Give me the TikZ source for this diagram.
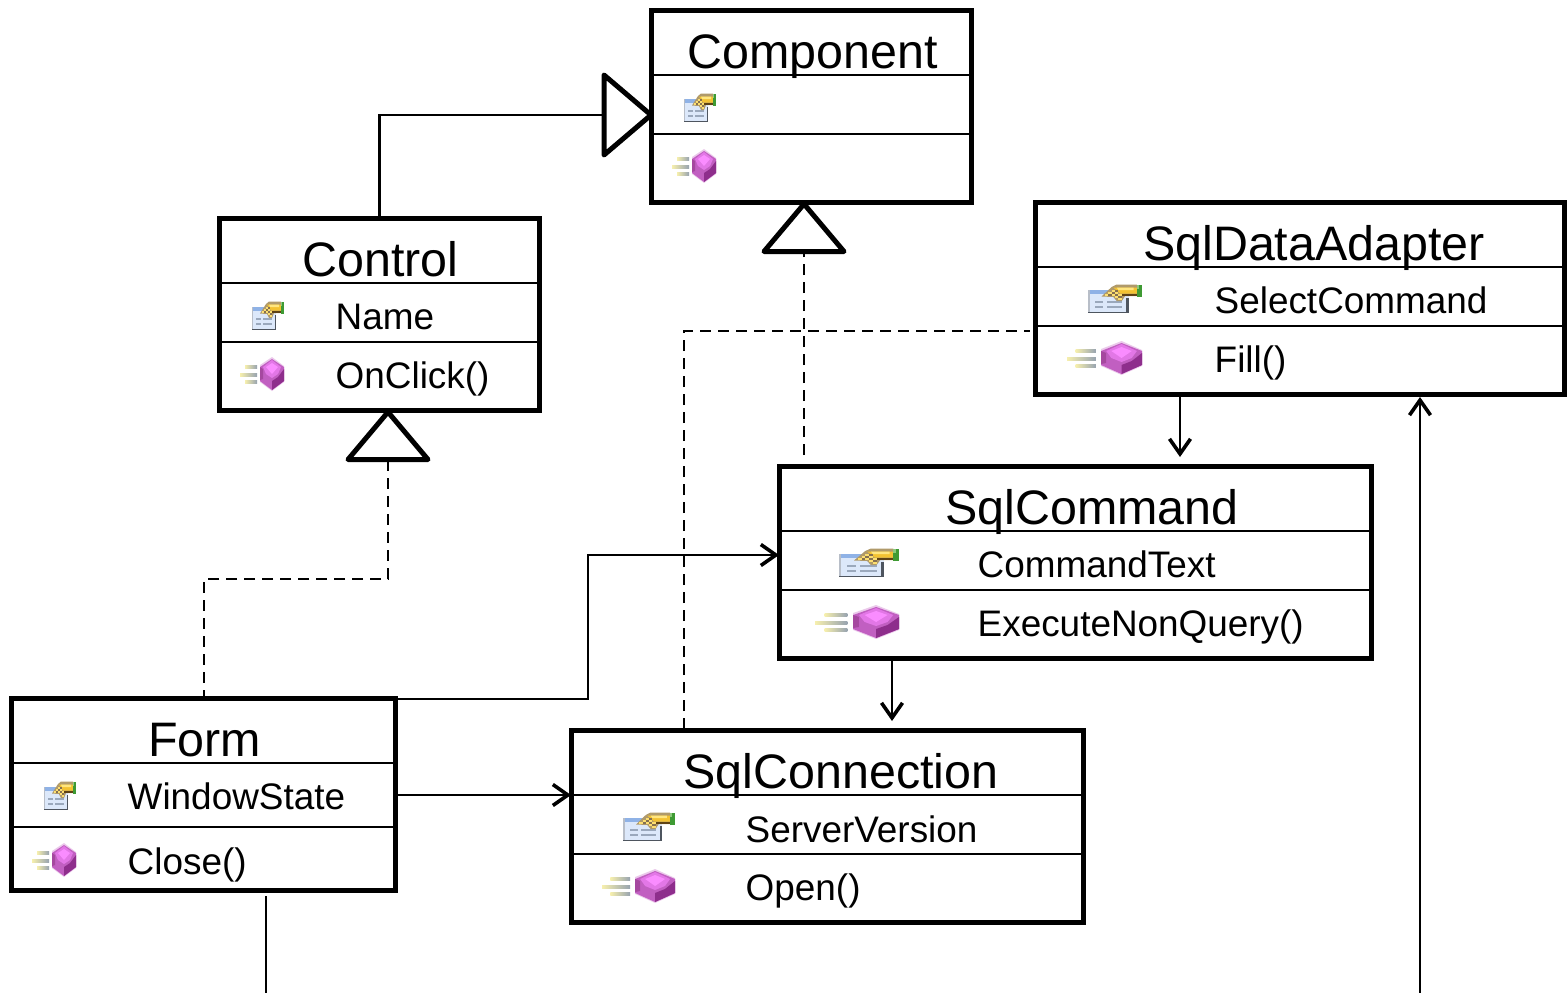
\documentclass[tikz,border=0pt]{standalone}
\usepackage{fontspec}
\setmainfont{Liberation Sans}
\usetikzlibrary{arrows.meta,calc}
\definecolor{wingray}{HTML}{4E555F}
\definecolor{winlight}{HTML}{B8BEC8}
\definecolor{winfill}{HTML}{DCE8FA}
\definecolor{winbar}{HTML}{8FB2E6}
\definecolor{winline}{HTML}{9AA8BC}
\definecolor{handy}{HTML}{F3C232}
\definecolor{handl}{HTML}{FFE680}
\definecolor{handb}{HTML}{B09A6A}
\definecolor{handd}{HTML}{5E4215}
\definecolor{handg}{HTML}{3E9A33}
\definecolor{handgl}{HTML}{8CC97C}
\definecolor{gemhalo}{HTML}{EBC9EB}
\definecolor{gemtop}{HTML}{E277E6}
\definecolor{gemhi}{HTML}{FA8CFF}
\definecolor{gemleft}{HTML}{C15FC1}
\definecolor{gemband}{HTML}{A5489F}
\definecolor{gemright}{HTML}{8E2E8C}
\definecolor{speedy}{HTML}{F6EFAE}
\definecolor{speedg}{HTML}{97A3B0}
\tikzset{
  classbox/.style={draw=black,fill=white,line width=5pt,rectangle,inner sep=0pt,outer sep=0pt,line join=miter},
  sepline/.style={draw=black,line width=2.6pt},
  conn/.style={draw=black,line width=2.6pt},
  dashconn/.style={draw=black,line width=2.6pt,dash pattern=on 11pt off 7pt},
  openarrow/.style={-{Straight Barb[length=15pt,width=21pt,line width=3.6pt]}},
  inherit/.style={draw=black,fill=white,line width=5pt,line join=round,line cap=round},
  titletext/.style={inner sep=0pt,anchor=base,font=\fontsize{48.4}{50}\selectfont},
  detailtext/.style={inner sep=0pt,anchor=base west,font=\fontsize{36.9}{40}\selectfont},
}
% #1 left, #2 top, #3 width of the icon
\newcommand{\fieldicon}[3]{%
  \begin{scope}[shift={(#1,#2)},xscale=#3/32]
    \fill[winfill] (0,6) rectangle (24,29);
    \fill[winbar] (0,6) rectangle (13,10);
    \fill[winlight] (0,6) rectangle (1.2,29);
    \fill[wingray] (0,27.6) rectangle (24,29);
    \fill[wingray] (22.6,14) rectangle (24,29);
    \fill[winline] (4,17) rectangle (9,19);
    \fill[winline] (11,17) rectangle (20,19);
    \fill[winline] (4,22) rectangle (9,24);
    \fill[winline] (11,22) rectangle (20,24);
    \fill[handb] (8,12.5) -- (14,3) -- (17,0.5) -- (29,0.5) -- (29,12) -- (22,12) -- (20,17) -- (17,17) -- (15,13) -- cycle;
    \fill[handy] (15,3.5) -- (29,3.5) -- (29,9.5) -- (19,9.5) -- cycle;
    \fill[handl] (17,3.5) -- (27,3.5) -- (27,6) -- (18,6) -- cycle;
    \fill[handd] (20,10) rectangle (29,12);
    \foreach \px/\py in {10/10,12/8,14/6,14/10,16/8,16/12,18/10,18/14}
      \fill[handl!80!handy] (\px,\py) rectangle ++(2,2);
    \foreach \px/\py in {12/10,14/8,16/6,16/10,18/12}
      \fill[handd!75!white] (\px,\py) rectangle ++(2,2);
    \fill[handg] (29,0.5) rectangle (32,13);
    \fill[handgl] (29,0.5) rectangle (30.3,5);
  \end{scope}}
\newcommand{\methodicon}[3]{%
  \begin{scope}[shift={(#1,#2)},xscale=#3/44]
    \shade[left color=speedy,right color=speedg] (5,8) rectangle (17,11);
    \shade[left color=speedy,right color=speedg] (0,16) rectangle (17,19);
    \shade[left color=speedy,right color=speedg] (5,23) rectangle (17,26);
    \fill[gemhalo] (20,8) -- (32,0) -- (44,9) -- (44,25) -- (32,34) -- (20,25) -- cycle;
    \fill[gemleft] (20,10) -- (32,2) -- (44,10) -- (44,24) -- (32,33) -- (20,24) -- cycle;
    \fill[gemband] (20,10) -- (23,12) -- (23,22) -- (20,23) -- cycle;
    \fill[gemright] (32,24) -- (38,20) -- (44,12) -- (44,24) -- (32,33) -- cycle;
    \fill[gemtop] (23,10) -- (32,3) -- (41,10) -- (38,17) -- (32,21) -- (26,17) -- cycle;
    \fill[gemhi] (26,10) -- (32,6) -- (38,10) -- (32,17) -- cycle;
  \end{scope}}
\begin{document}
\begin{tikzpicture}[x=1pt,y=-1pt]
\useasboundingbox (0,0) rectangle (1567,993);
% class frames
\node[classbox,anchor=north west,minimum width=320pt,minimum height=192pt] (component) at (651.5,10.5) {};
\node[classbox,anchor=north west,minimum width=320pt,minimum height=192pt] (control) at (219.5,218.5) {};
\node[classbox,anchor=north west,minimum width=529pt,minimum height=192pt] (adapter) at (1035.5,202.5) {};
\node[classbox,anchor=north west,minimum width=592pt,minimum height=192pt] (command) at (779.5,466.5) {};
\node[classbox,anchor=north west,minimum width=384pt,minimum height=192pt] (form) at (11.5,698.5) {};
\node[classbox,anchor=north west,minimum width=512pt,minimum height=192pt] (connection) at (571.5,730.5) {};
% connector way points
\coordinate (triA) at (604,115);
\coordinate (triB) at (804,252);
\coordinate (triC) at (388,460);
\coordinate (dashB) at (804,455);
\coordinate (dashDa) at (684,729);
\coordinate (dashDb) at (684,331);
\coordinate (dashDc) at (1030,331);
\coordinate (dashCa) at (388,579);
\coordinate (dashCb) at (204,579);
\coordinate (dashCc) at (204,697);
\coordinate (formTop) at (396,699);
\coordinate (formBend) at (588,699);
\coordinate (cmdIn) at (588,555);
\coordinate (cmdEnd) at (779,555);
\coordinate (formMid) at (396,795);
\coordinate (connEnd) at (571,795);
\coordinate (adOut) at (1180,395);
\coordinate (adEnd) at (1180,457);
\coordinate (cmdOut) at (892,659);
\coordinate (cmdDown) at (892,721);
\coordinate (formOut) at (266,896);
\coordinate (formFree) at (266,993);
\coordinate (adFree) at (1420,993);
\coordinate (adIn) at (1420,397);
% connectors
\draw[conn] (control.north) |- (triA);
\draw[dashconn] (dashB) -- (triB);
\draw[dashconn] (dashDa) -- (dashDb) -- (dashDc);
\draw[dashconn] (triC) -- (dashCa) -- (dashCb) -- (dashCc);
\draw[conn,openarrow] (formTop) -- (formBend) -- (cmdIn) -- (cmdEnd);
\draw[conn,openarrow] (formMid) -- (connEnd);
\draw[conn,openarrow] (adOut) -- (adEnd);
\draw[conn,openarrow] (cmdOut) -- (cmdDown);
\draw[conn] (formOut) -- (formFree);
\draw[conn,openarrow] (adFree) -- (adIn);
% inheritance triangles
\draw[inherit] (604,75) -- (651,115) -- (604,155) -- cycle;
\draw[inherit] (804,204) -- (844,251.5) -- (764,251.5) -- cycle;
\draw[inherit] (388,412) -- (428,459.5) -- (348,459.5) -- cycle;
% compartments
\draw[sepline] (652,75) -- (972,75) (652,134) -- (972,134);
\draw[sepline] (220,283) -- (540,283) (220,342) -- (540,342);
\draw[sepline] (1036,267) -- (1565,267) (1036,326) -- (1565,326);
\draw[sepline] (780,531) -- (1372,531) (780,590) -- (1372,590);
\draw[sepline] (12,763) -- (396,763) (12,827) -- (396,827);
\draw[sepline] (572,795) -- (1084,795) (572,854) -- (1084,854);
% titles
\node[titletext] (tComponent) at (812.5,68) {Component};
\node[titletext] (tControl) at (380.5,276) {Control};
\node[titletext] (tAdapter) at (1314,260) {SqlDataAdapter};
\node[titletext] (tCommand) at (1092,524) {SqlCommand};
\node[titletext] (tForm) at (204.5,756) {Form};
\node[titletext] (tConnection) at (841,788) {SqlConnection};
% members
\node[detailtext] (mName) at (335.5,329) {Name};
\node[detailtext] (mOnClick) at (335.5,388) {OnClick()};
\node[detailtext] (mSelect) at (1214.5,313) {SelectCommand};
\node[detailtext] (mFill) at (1214.5,372) {Fill()};
\node[detailtext] (mText) at (977.5,577) {CommandText};
\node[detailtext] (mExec) at (977.5,636) {ExecuteNonQuery()};
\node[detailtext] (mWindow) at (127.5,809.5) {WindowState};
\node[detailtext] (mClose) at (127.5,874) {Close()};
\node[detailtext] (mServer) at (745.5,842) {ServerVersion};
\node[detailtext] (mOpen) at (745.5,900.5) {Open()};
% icons
\fieldicon{684}{93}{32}
\methodicon{672}{149}{44}
\fieldicon{252}{301}{32}
\methodicon{240}{357}{44}
\fieldicon{1088}{284}{54}
\methodicon{1067}{341}{75}
\fieldicon{839}{548}{60}
\methodicon{815}{605}{84}
\fieldicon{44}{781}{32}
\methodicon{32}{843}{44}
\fieldicon{623}{812}{52}
\methodicon{602}{869}{73}
\end{tikzpicture}
\end{document}
